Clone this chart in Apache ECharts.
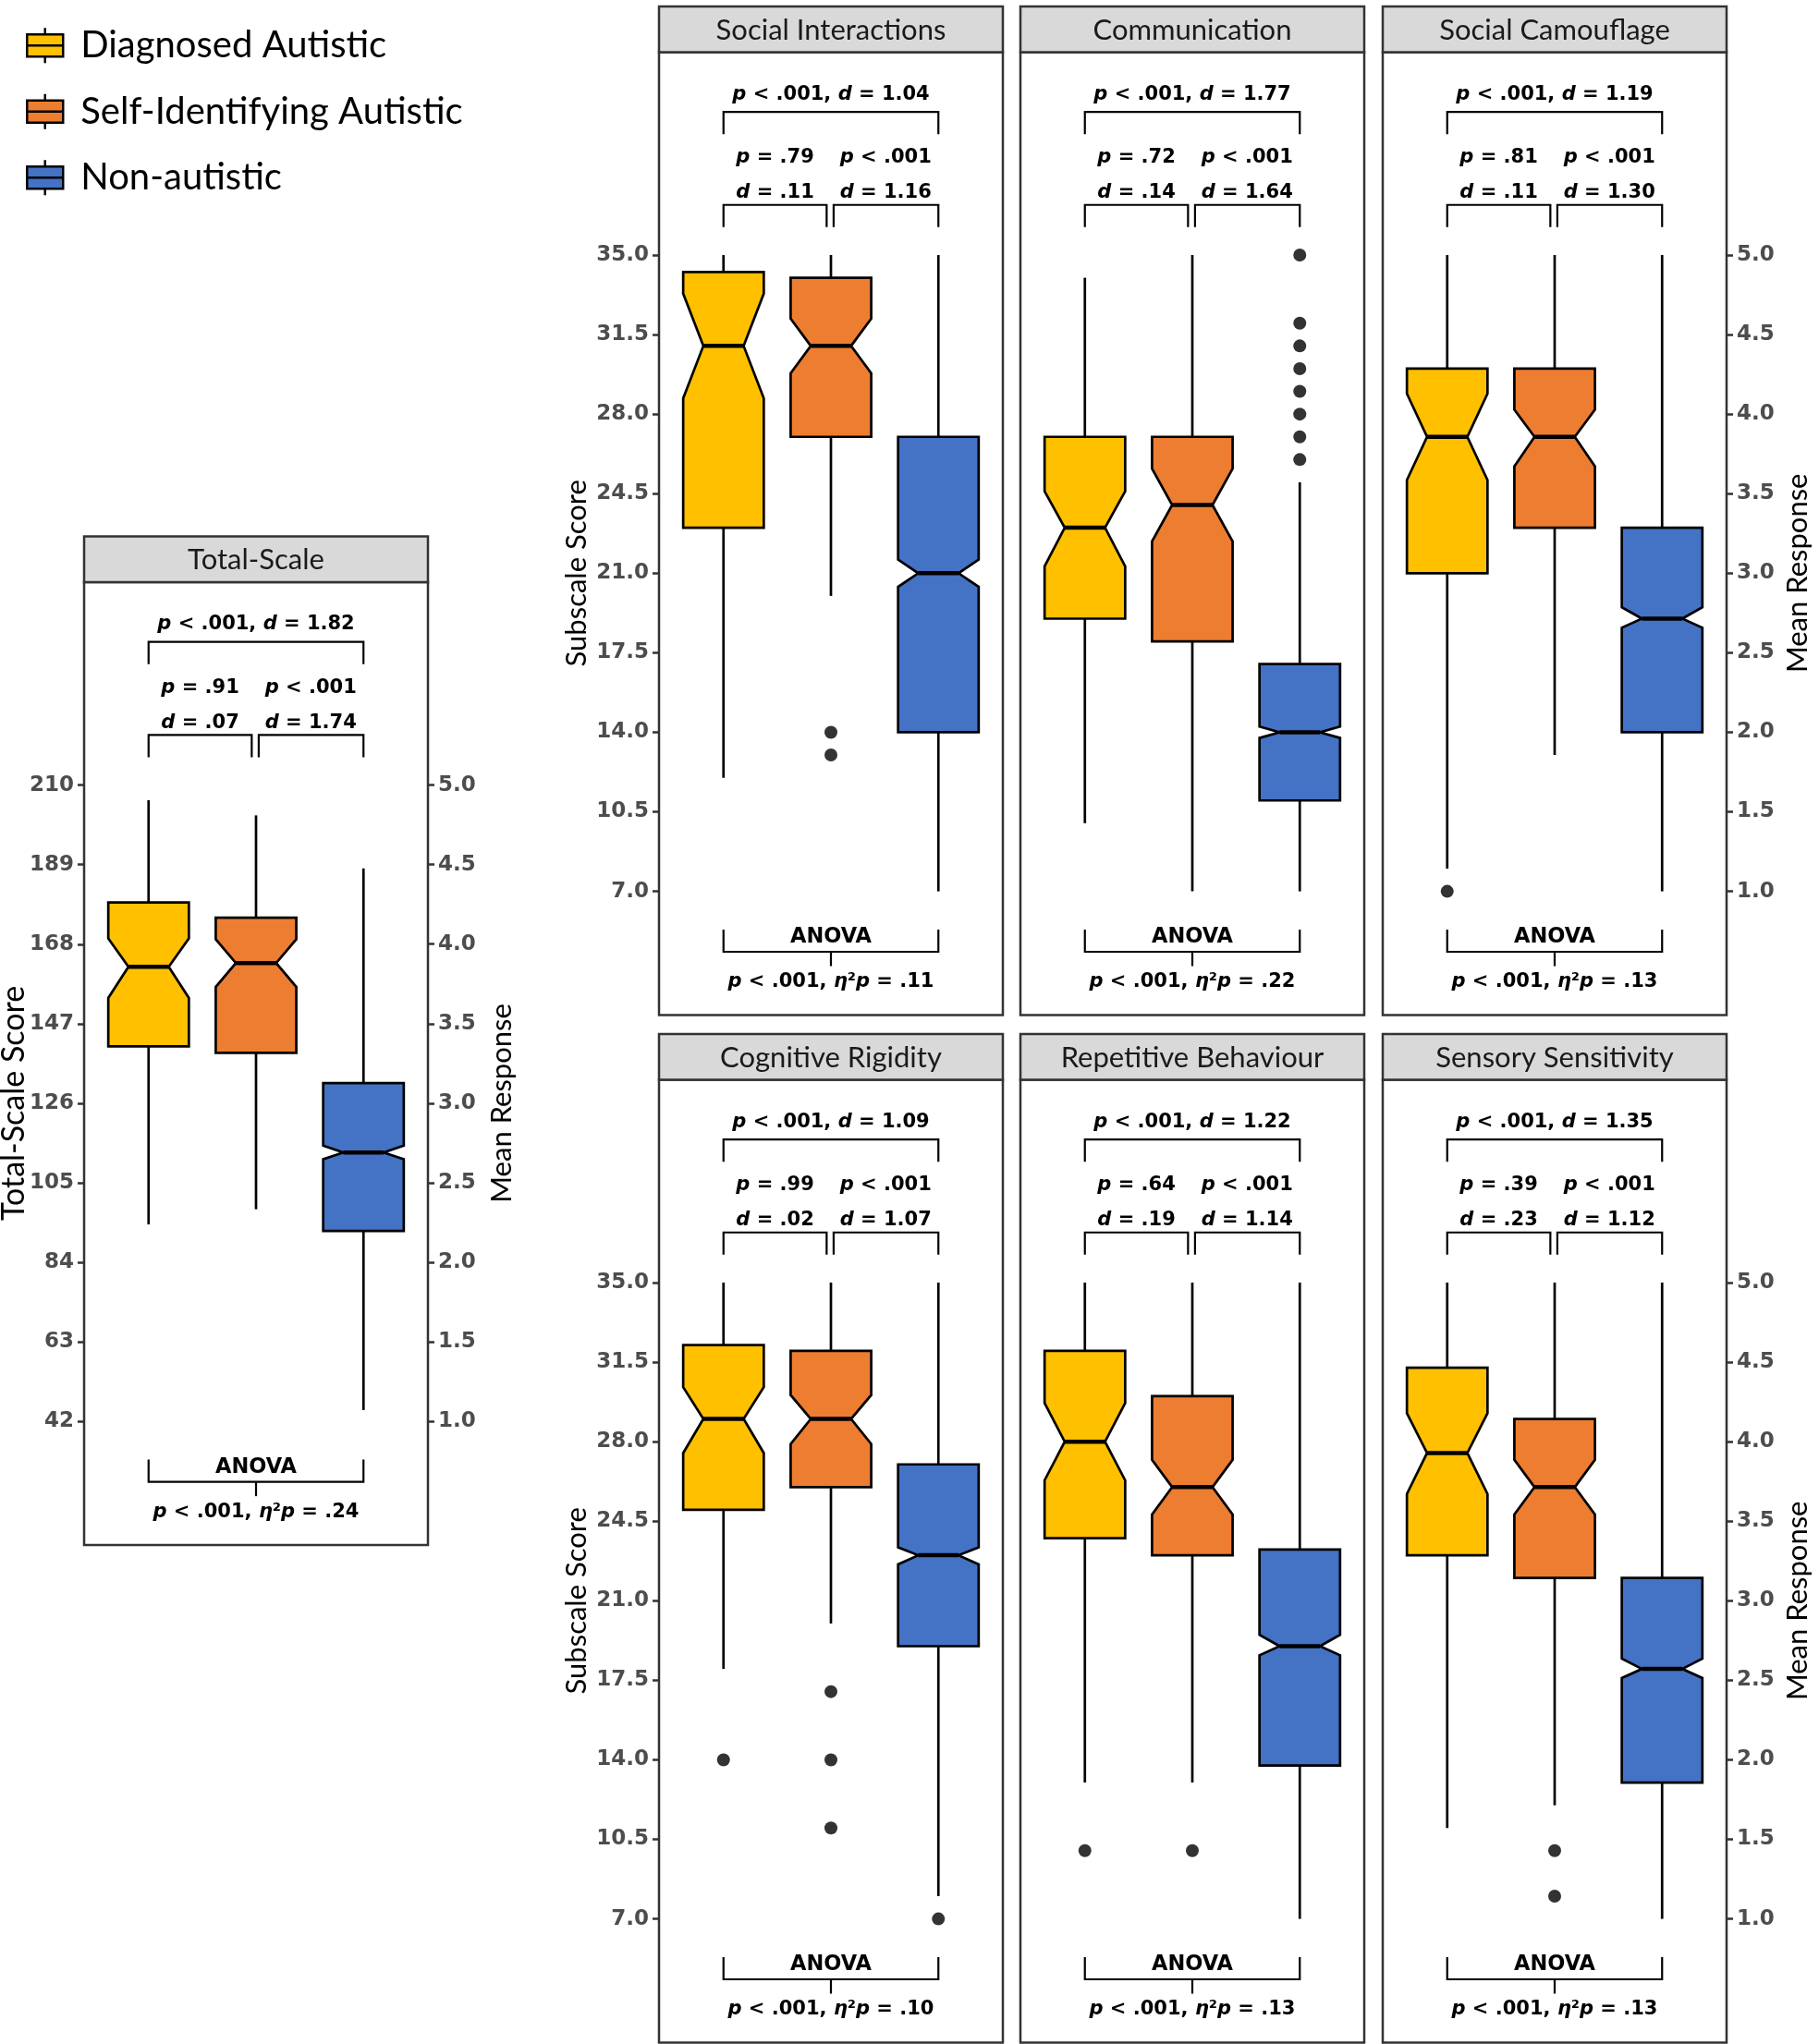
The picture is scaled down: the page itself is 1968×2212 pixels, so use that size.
<!DOCTYPE html>
<html>
<head>
<meta charset="utf-8">
<script src="https://cdn.jsdelivr.net/npm/echarts@6/dist/echarts.min.js"></script>
<style>
html,body{margin:0;padding:0;background:#fff;}
#chart{width:1968px;height:2212px;}
</style>
</head>
<body>
<div id="chart"></div>
<script>
// ---------------- data ----------------
const groups = ['Diagnosed Autistic', 'Self-Identifying Autistic', 'Non-autistic'];
const groupColors = ['#FFC000', '#ED7D31', '#4472C4'];
const panelTitles = ['Total-Scale', 'Social Interactions', 'Communication', 'Social Camouflage',
                     'Cognitive Rigidity', 'Repetitive Behaviour', 'Sensory Sensitivity'];
const itemsPerScale = [42, 7, 7, 7, 7, 7, 7];

// box stats: [lower whisker, Q1, notch low, median, notch high, Q3, upper whisker]
const totalScaleBoxes = [
  [94, 141, 153.8, 162, 169.5, 179, 206],
  [98, 139.3, 156.7, 163, 169.3, 175, 202],
  [45, 92.3, 111.2, 113, 114.8, 131.3, 188]
];
const socialInteractionsBoxes = [
  [12, 23, 28.7, 31, 33.3, 34.25, 35],
  [20, 27, 29.8, 31, 32.2, 34, 35],
  [7, 14, 20.4, 21, 21.6, 27, 35]
];
const communicationBoxes = [
  [10, 19, 21.3, 23, 24.6, 27, 34],
  [7, 18, 22.4, 24, 25.6, 27, 35],
  [7, 11, 13.75, 14, 14.25, 17, 25]
];
const socialCamouflageBoxes = [
  [8, 21, 25.1, 27, 28.9, 30, 35],
  [13, 23, 25.7, 27, 28.2, 30, 35],
  [7, 14, 18.6, 19, 19.5, 23, 35]
];
const cognitiveRigidityBoxes = [
  [18, 25, 27.5, 29, 30.4, 32.25, 35],
  [20, 26, 27.9, 29, 30.05, 32, 35],
  [8, 19, 22.6, 23, 23.35, 27, 35]
];
const repetitiveBehaviourBoxes = [
  [13, 23.75, 26.3, 28, 29.7, 32, 35],
  [13, 23, 24.8, 26, 27.2, 30, 35],
  [7, 13.75, 18.6, 19, 19.5, 23.25, 35]
];
const sensorySensitivityBoxes = [
  [11, 23, 25.7, 27.5, 29.25, 31.25, 35],
  [12, 22, 24.8, 26, 27.2, 29, 35],
  [7, 13, 17.6, 18, 18.45, 22, 35]
];

// outliers per group
const totalScaleOutliers = [[], [], []];
const socialInteractionsOutliers = [[], [14, 13], []];
const communicationOutliers = [[], [], [35, 32, 31, 30, 29, 28, 27, 26]];
const socialCamouflageOutliers = [[7], [], []];
const cognitiveRigidityOutliers = [[14], [17, 14, 11], [7]];
const repetitiveBehaviourOutliers = [[10], [10], []];
const sensorySensitivityOutliers = [[], [10, 8], []];

// tick labels
const totalTicks = [42, 63, 84, 105, 126, 147, 168, 189, 210];
const subscaleTicks = [7, 10.5, 14, 17.5, 21, 24.5, 28, 31.5, 35];
const meanResponseTicks = [1, 1.5, 2, 2.5, 3, 3.5, 4, 4.5, 5];

// annotations
const overallD = ['1.82', '1.04', '1.77', '1.19', '1.09', '1.22', '1.35'];
const leftPairP = ['= .91', '= .79', '= .72', '= .81', '= .99', '= .64', '= .39'];
const leftPairD = ['.07', '.11', '.14', '.11', '.02', '.19', '.23'];
const rightPairP = ['< .001', '< .001', '< .001', '< .001', '< .001', '< .001', '< .001'];
const rightPairD = ['1.74', '1.16', '1.64', '1.30', '1.07', '1.14', '1.12'];
const anovaEta = ['.24', '.11', '.22', '.13', '.10', '.13', '.13'];

const panelBoxes = [totalScaleBoxes, socialInteractionsBoxes, communicationBoxes, socialCamouflageBoxes,
                    cognitiveRigidityBoxes, repetitiveBehaviourBoxes, sensorySensitivityBoxes];
const panelOutliers = [totalScaleOutliers, socialInteractionsOutliers, communicationOutliers, socialCamouflageOutliers,
                       cognitiveRigidityOutliers, repetitiveBehaviourOutliers, sensorySensitivityOutliers];

// ---------------- layout ----------------
const PANEL_W = 372;
const panelLeft = [91, 713, 1104, 1496, 713, 1104, 1496];
const mr5Pixel = [849.6, 276, 276, 276, 1388, 1388, 1388]; // pixel row of mean response 5.0
const PX_MR = 172.15;
const MR_TOP = 6.2756, MR_BOTTOM = 0.2228;
const HEADER_H = 49.5;
const leftLabelPanels = [0, 1, 4];
const rightLabelPanels = [0, 3, 6];
const BOX_WIDTH = 0.75, NOTCH_INSET = 0.25;
const FONT = 'Lato';
const ANN_FONT = 'DejaVu Sans';
const ANN_SIZE = 21;
const ANN_WEIGHT = 'bold';
const A = {outerText: 6.01, outerLine: 5.90, outerEnd: 5.76, innerText1: 5.61, innerText2: 5.39,
           innerLine: 5.315, innerEnd: 5.175, anovaEnd: 0.76, anovaText: 0.71, anovaLine: 0.62,
           anovaTick: 0.53, anovaP: 0.43};
const RICH = {i: {fontStyle: 'italic', fontFamily: ANN_FONT, fontSize: ANN_SIZE, fontWeight: ANN_WEIGHT, fill: '#000'}};

function renderBox(params, api) {
  const x = api.value(0);
  const wlo = api.value(1), q1 = api.value(2), nlo = api.value(3), med = api.value(4),
        nhi = api.value(5), q3 = api.value(6), whi = api.value(7);
  const full = api.size([BOX_WIDTH, 0])[0];
  const half = full / 2;
  const inset = full * NOTCH_INSET;
  const cx = api.coord([x, med])[0];
  const Y = v => api.coord([x, v])[1];
  const xl = cx - half, xr = cx + half;
  const pts = [[xl, Y(q3)], [xr, Y(q3)], [xr, Y(nhi)], [xr - inset, Y(med)], [xr, Y(nlo)], [xr, Y(q1)],
               [xl, Y(q1)], [xl, Y(nlo)], [xl + inset, Y(med)], [xl, Y(nhi)]];
  const color = api.visual('color');
  return {type: 'group', children: [
    {type: 'line', shape: {x1: cx, y1: Y(q3), x2: cx, y2: Y(whi)}, style: {stroke: '#000', lineWidth: 2.7}},
    {type: 'line', shape: {x1: cx, y1: Y(q1), x2: cx, y2: Y(wlo)}, style: {stroke: '#000', lineWidth: 2.7}},
    {type: 'polygon', shape: {points: pts}, style: {fill: color, stroke: '#000', lineWidth: 2.7, lineJoin: 'miter'}},
    {type: 'line', shape: {x1: xl + inset, y1: Y(med), x2: xr - inset, y2: Y(med)}, style: {stroke: '#000', lineWidth: 4.5}}
  ]};
}

function makeAnnotation(p, k) {
  return function (params, api) {
    const pt = (x, mr) => api.coord([x, mr * k]);
    const poly = pts => ({type: 'polyline', shape: {points: pts}, style: {stroke: '#000', lineWidth: 2.2, fill: null}});
    const txt = (x, mr, s, size) => {
      const c = pt(x, mr);
      return {type: 'text', x: c[0], y: c[1], style: {text: s, rich: RICH, fontFamily: ANN_FONT, fontSize: size || ANN_SIZE,
              fontWeight: ANN_WEIGHT, fill: '#000', align: 'center', verticalAlign: 'middle'}};
    };
    const bracket = (x1, x2, yl, ye) => poly([pt(x1, ye), pt(x1, yl), pt(x2, yl), pt(x2, ye)]);
    return {type: 'group', children: [
      txt(2, A.outerText, '{i|p} < .001, {i|d} = ' + overallD[p]),
      bracket(1, 3, A.outerLine, A.outerEnd),
      txt(1.48, A.innerText1, '{i|p} ' + leftPairP[p]),
      txt(1.48, A.innerText2, '{i|d} = ' + leftPairD[p]),
      txt(2.51, A.innerText1, '{i|p} ' + rightPairP[p]),
      txt(2.51, A.innerText2, '{i|d} = ' + rightPairD[p]),
      bracket(1, 1.96, A.innerLine, A.innerEnd),
      bracket(2.025, 3, A.innerLine, A.innerEnd),
      bracket(1, 3, A.anovaLine, A.anovaEnd),
      poly([pt(2, A.anovaLine), pt(2, A.anovaTick)]),
      txt(2, A.anovaText, 'ANOVA', 22.5),
      txt(2, A.anovaP, '{i|p} < .001, {i|η}²{i|p} = ' + anovaEta[p])
    ]};
  };
}

const grids = [], xAxes = [], yAxes = [], series = [], graphics = [];
const tickLabelStyle = {fontFamily: 'DejaVu Sans', fontSize: 23, fontWeight: 'bold', color: '#4D4D4D', margin: 11};
const tickStyle = {length: 7, lineStyle: {color: '#333', width: 2.5}};

panelTitles.forEach((title, p) => {
  const k = itemsPerScale[p];
  const bodyTop = mr5Pixel[p] - (MR_TOP - 5) * PX_MR;
  const bodyH = (MR_TOP - MR_BOTTOM) * PX_MR;
  grids.push({left: panelLeft[p], top: bodyTop, width: PANEL_W, height: bodyH, show: true,
              borderColor: '#333', borderWidth: 2.5, backgroundColor: '#fff'});
  xAxes.push({gridIndex: p, type: 'value', min: 0.4, max: 3.6, show: false});
  const ticks = p === 0 ? totalTicks : subscaleTicks;
  yAxes.push({
    gridIndex: p, type: 'value', position: 'left', min: MR_BOTTOM * k, max: MR_TOP * k,
    show: leftLabelPanels.includes(p),
    axisLine: {show: false}, splitLine: {show: false},
    axisTick: Object.assign({show: true, customValues: ticks}, tickStyle),
    axisLabel: Object.assign({customValues: ticks, formatter: v => p === 0 ? String(Math.round(v)) : v.toFixed(1)}, tickLabelStyle)
  });
  const yIdx = yAxes.length - 1;
  if (rightLabelPanels.includes(p)) {
    yAxes.push({
      gridIndex: p, type: 'value', position: 'right', min: MR_BOTTOM, max: MR_TOP,
      axisLine: {show: false}, splitLine: {show: false},
      axisTick: Object.assign({show: true, customValues: meanResponseTicks}, tickStyle),
      axisLabel: Object.assign({customValues: meanResponseTicks, formatter: v => v.toFixed(1)}, tickLabelStyle)
    });
  }
  groups.forEach((g, gi) => {
    series.push({
      type: 'custom', name: g, xAxisIndex: p, yAxisIndex: yIdx, renderItem: renderBox,
      itemStyle: {color: groupColors[gi], borderColor: '#000', borderWidth: 2.5},
      encode: {x: 0, y: [1, 2, 3, 4, 5, 6, 7]},
      data: [[gi + 1].concat(panelBoxes[p][gi])], silent: true, z: 3
    });
  });
  series.push({
    type: 'scatter', name: 'outliers', xAxisIndex: p, yAxisIndex: yIdx, symbolSize: 14, silent: true, z: 4,
    itemStyle: {color: '#000'},
    data: panelOutliers[p].flatMap((arr, gi) => arr.map(v => [gi + 1, v]))
  });
  series.push({
    type: 'custom', name: 'annotations', xAxisIndex: p, yAxisIndex: yIdx, renderItem: makeAnnotation(p, k),
    data: [[2, 3 * k]], clip: false, silent: true, z: 5
  });
  // facet header
  graphics.push({type: 'rect', shape: {x: panelLeft[p], y: bodyTop - HEADER_H, width: PANEL_W, height: HEADER_H},
                 style: {fill: '#D9D9D9', stroke: '#333', lineWidth: 2.5}, z: 10});
  graphics.push({type: 'text', x: panelLeft[p] + PANEL_W / 2, y: bodyTop - HEADER_H / 2 + 1, z: 11,
                 style: {text: title, fontFamily: FONT, fontSize: 31, fill: '#1A1A1A', align: 'center', verticalAlign: 'middle'}});
});

// axis titles
const axisTitles = [
  {text: 'Total-Scale Score', x: 15, y: mr5Pixel[0] + 2 * PX_MR, size: 34},
  {text: 'Mean Response', x: 543, y: mr5Pixel[0] + 2 * PX_MR, size: 31},
  {text: 'Subscale Score', x: 624, y: mr5Pixel[1] + 2 * PX_MR, size: 31},
  {text: 'Subscale Score', x: 624, y: mr5Pixel[4] + 2 * PX_MR, size: 31},
  {text: 'Mean Response', x: 1945, y: mr5Pixel[3] + 2 * PX_MR, size: 31},
  {text: 'Mean Response', x: 1945, y: mr5Pixel[6] + 2 * PX_MR, size: 31}
];
axisTitles.forEach(t => graphics.push({type: 'text', x: t.x, y: t.y, rotation: Math.PI / 2, z: 11,
  style: {text: t.text, fontFamily: FONT, fontSize: t.size, fill: '#000', align: 'center', verticalAlign: 'middle'}}));

const chart = echarts.init(document.getElementById('chart'), null, {renderer: 'canvas'});
chart.setOption({
  animation: false,
  backgroundColor: '#fff',
  legend: {
    data: groups, orient: 'vertical', left: 28, top: 29, padding: 0,
    itemWidth: 39, itemHeight: 38, itemGap: 31, selectedMode: false,
    icon: 'path://M0,7H39V31H0ZM0,19H39M19.5,0V7M19.5,31V38',
    itemStyle: {borderColor: '#000', borderWidth: 2.5},
    textStyle: {fontFamily: FONT, fontSize: 40, color: '#000', padding: [0, 0, 0, 14]}
  },
  grid: grids, xAxis: xAxes, yAxis: yAxes, series: series, graphic: graphics
});
</script>
</body>
</html>
